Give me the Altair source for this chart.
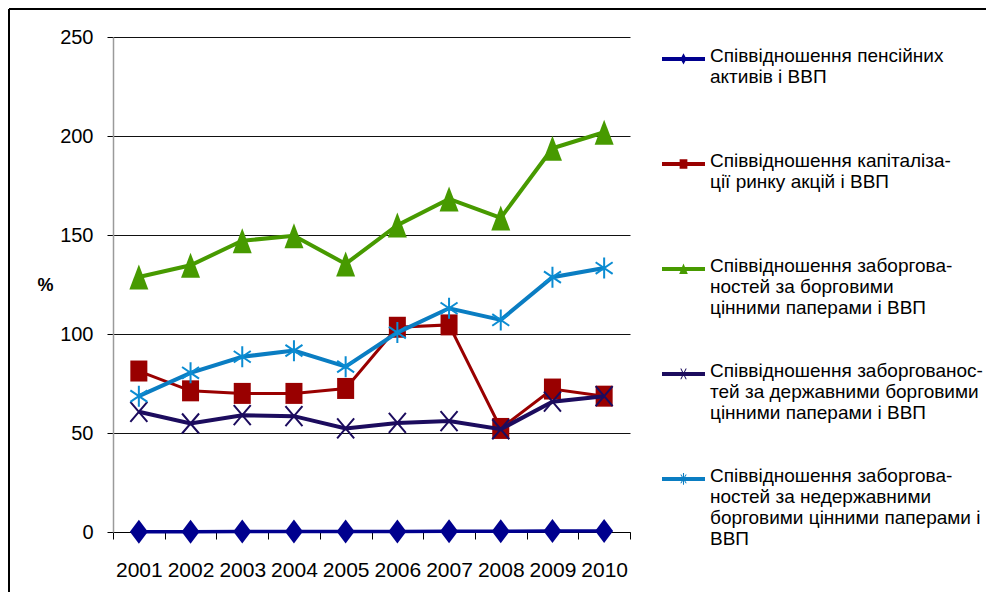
import altair as alt
import pandas as pd

years = [2001, 2002, 2003, 2004, 2005, 2006, 2007, 2008, 2009, 2010]

series_labels = [
    "Співвідношення пенсійних\nактивів і ВВП",
    "Співвідношення капіталіза-\nції ринку акцій і ВВП",
    "Співвідношення заборгова-\nностей за борговими\nцінними паперами і ВВП",
    "Співвідношення заборгованос-\nтей за державними борговими\nцінними паперами і ВВП",
    "Співвідношення заборгова-\nностей за недержавними\nборговими цінними паперами і\nВВП",
]

pension = [0.1, 0.1, 0.2, 0.2, 0.3, 0.3, 0.4, 0.4, 0.5, 0.5]
stock_cap = [81.3, 71.3, 70.0, 70.0, 72.5, 103.4, 104.6, 52.3, 72.2, 68.6]
debt_total = [128.8, 134.7, 147.1, 149.6, 135.4, 155.0, 168.2, 158.6, 193.8, 201.9]
debt_gov = [60.7, 54.8, 59.0, 58.5, 52.3, 55.1, 56.0, 51.9, 65.8, 68.6]
debt_nongov = [68.6, 80.4, 88.5, 91.6, 83.5, 100.7, 113.0, 107.1, 128.7, 133.3]

all_series = [pension, stock_cap, debt_total, debt_gov, debt_nongov]

line_colors = ["#00008E", "#990000", "#479A00", "#1C0C5E", "#0A7DC2"]
marker_colors = ["#00008E", "#990000", "#479A00", "#1C0C5E", "#0B8CD2"]
line_widths = [3.5, 3, 4, 4, 4]

marker_shapes = [
    "M0,-1L0.75,0L0,1L-0.75,0Z",
    "M-0.81,-1L0.81,-1L0.81,1L-0.81,1Z",
    "M0,-1L0.76,1L-0.76,1Z",
    "M-0.85,-1L0.85,1M-0.85,1L0.85,-1",
    "M0,-1L0,1M-0.81,-0.55L0.81,0.55M-0.81,0.55L0.81,-0.55",
]
marker_sizes = [576, 441, 625, 400, 441]
marker_filled = [True, True, True, False, False]

LINE = "M-1,-0.21L1,-0.21L1,-0.024L-1,-0.024Z"
legend_shapes = [
    LINE + "M0,-0.38L0.14,-0.12L0,0.14L-0.14,-0.12Z",
    LINE + "M-0.18,-0.34L0.18,-0.34L0.18,0.1L-0.18,0.1Z",
    LINE + "M0,-0.37L0.2,0.12L-0.2,0.12Z",
    LINE + "M-0.15,-0.37L-0.1,-0.37L0.15,0.13L0.1,0.13ZM0.1,-0.37L0.15,-0.37L-0.1,0.13L-0.15,0.13Z",
    LINE + "M-0.025,-0.39L0.025,-0.39L0.025,0.15L-0.025,0.15ZM-0.15,-0.32L-0.1,-0.32L0.15,0.08L0.1,0.08ZM0.1,-0.32L0.15,-0.32L-0.1,0.08L-0.15,0.08Z",
]

rows = []
for sid, vals in enumerate(all_series):
    for yr, v in zip(years, vals):
        rows.append({"year": yr, "value": v, "sid": sid, "label": series_labels[sid]})
df = pd.DataFrame(rows)

SANS = "Liberation Sans, Arial, sans-serif"

x_enc = alt.X(
    "year:O",
    scale=alt.Scale(type="band", paddingInner=0, paddingOuter=0),
    axis=alt.Axis(
        title=None, labelAngle=0, labelFont=SANS, labelFontSize=21, labelColor="black",
        tickBand="extent", tickSize=7, tickColor="black", domainColor="black",
        labelPadding=20, grid=False,
    ),
)
y_enc = alt.Y(
    "value:Q",
    scale=alt.Scale(domain=[0, 250], nice=False),
    axis=alt.Axis(
        values=[0, 50, 100, 150, 200, 250], title="%", titleAngle=0, titleX=-68, titleY=248,
        titleFont=SANS, titleFontSize=18, titleFontWeight="bold", titleColor="black",
        titleAlign="center", titleBaseline="middle",
        labelFont=SANS, labelFontSize=20, labelColor="black", labelPadding=14,
        tickSize=6, tickColor="black", domainColor="#9a9a9a", domainWidth=1.5,
        grid=True, gridColor="#111111", gridWidth=1,
    ),
)

base = alt.Chart(df)
layers = []
for sid in range(len(all_series)):
    sub = base.transform_filter(alt.datum.sid == sid)
    layers.append(
        sub.mark_line(color=line_colors[sid], strokeWidth=line_widths[sid]).encode(x=x_enc, y=y_enc)
    )
    pt_kwargs = dict(shape=marker_shapes[sid], size=marker_sizes[sid], filled=marker_filled[sid],
                     color=marker_colors[sid], opacity=1)
    if not marker_filled[sid]:
        pt_kwargs["strokeWidth"] = 2
    layers.append(sub.mark_point(**pt_kwargs).encode(x=x_enc, y=y_enc))

leg = alt.Legend(
    title=None, orient="none", legendX=549, legendY=3, direction="vertical",
    labelFont=SANS, labelFontSize=19, labelColor="black", labelLimit=600,
    labelExpr="slice(split(datum.label + '\\n\\n\\n\\n', '\\n'), 0, 4)",
    labelBaseline="alphabetic", labelOffset=5, rowPadding=16,
    symbolSize=1849, symbolStrokeWidth=0, padding=0,
)
legend_layer = base.transform_filter("datum.sid < 0").mark_point(filled=True, opacity=1).encode(
    x=x_enc, y=y_enc,
    color=alt.Color("label:N", scale=alt.Scale(domain=series_labels, range=line_colors), legend=leg),
    shape=alt.Shape("label:N", scale=alt.Scale(domain=series_labels, range=legend_shapes), legend=leg),
)
layers.append(legend_layer)

frame_df = pd.DataFrame({"k": [0]})
frame_top = alt.Chart(frame_df).mark_rule(color="black", strokeWidth=2).encode(
    x=alt.value(-104), x2=alt.value(873), y=alt.value(-28))
frame_left = alt.Chart(frame_df).mark_rule(color="black", strokeWidth=2).encode(
    x=alt.value(-104), y=alt.value(-28), y2=alt.value(555))
layers += [frame_top, frame_left]

chart = alt.layer(*layers).properties(
    width=517, height=495, padding=0, background="white"
).configure_view(stroke=None)

chart.save("out.html", embed_options={"renderer": "svg", "actions": False})
